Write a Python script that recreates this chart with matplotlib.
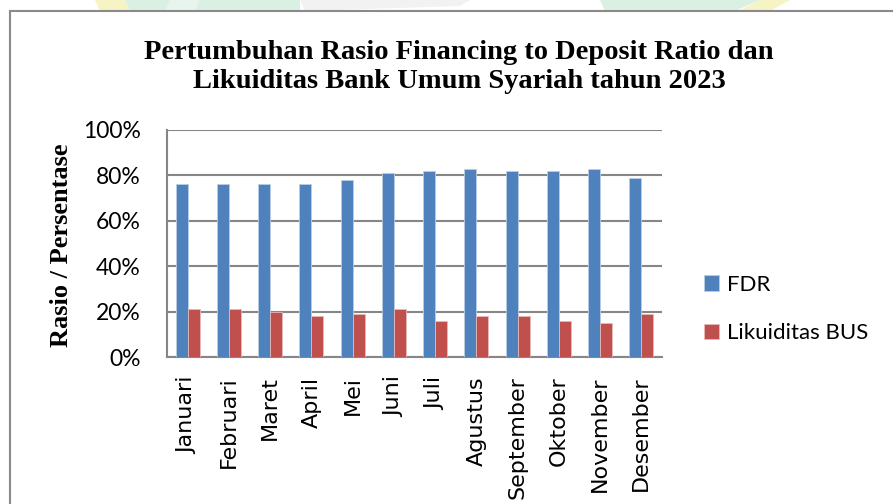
import matplotlib.pyplot as plt
from matplotlib.patches import Rectangle, Polygon
import numpy as np

months = ["Januari", "Februari", "Maret", "April", "Mei", "Juni", "Juli",
          "Agustus", "September", "Oktober", "November", "Desember"]
fdr = [76, 76, 76, 76, 78, 81, 82, 83, 82, 82, 83, 79]
likuiditas = [21, 21, 20, 18, 19, 21, 16, 18, 18, 16, 15, 19]
yticks = [0, 20, 40, 60, 80, 100]
ytick_labels = ["0%", "20%", "40%", "60%", "80%", "100%"]

W, H = 893, 504
fig = plt.figure(figsize=(W / 100, H / 100), dpi=100)
fig.patch.set_facecolor("white")

# faint background decoration above the chart frame
deco = fig.add_axes([0, 0, 1, 1], zorder=-5)
deco.set_xlim(0, W)
deco.set_ylim(H, 0)
deco.axis("off")
deco.add_patch(Polygon([[95, 0], [125, 0], [130, 11], [100, 11]], closed=True,
                       facecolor="#f6f3c4", edgecolor="none"))
deco.add_patch(Polygon([[125, 0], [300, 0], [300, 11], [130, 11]], closed=True,
                       facecolor="#d9f0e2", edgecolor="none"))
deco.add_patch(Polygon([[170, 0], [200, 0], [195, 11], [165, 11]], closed=True,
                       facecolor="#e8f5ee", edgecolor="none"))
deco.add_patch(Polygon([[600, 0], [760, 0], [735, 11], [605, 11]], closed=True,
                       facecolor="#d9f0e2", edgecolor="none"))
deco.add_patch(Polygon([[760, 0], [790, 0], [770, 11], [738, 11]], closed=True,
                       facecolor="#f6f3c4", edgecolor="none"))
deco.add_patch(Polygon([[300, 0], [470, 0], [460, 6], [305, 11]], closed=True,
                       facecolor="#f2f2f2", edgecolor="none"))
# chart frame
deco.add_patch(Rectangle((10, 11), W, H, facecolor="white",
                         edgecolor="#8a8a8a", linewidth=1.5))

ax = fig.add_axes([167 / W, 1 - 357 / H, 495 / W, 227 / H])
x = np.arange(len(months))
bw = 0.29
ax.bar(x - bw / 2, fdr, bw, color="#4F81BD", edgecolor="#b9cde5",
       linewidth=0.6, label="FDR", zorder=3)
ax.bar(x + bw / 2, likuiditas, bw, color="#C0504D", edgecolor="#e6b9b8",
       linewidth=0.6, label="Likuiditas BUS", zorder=3)

ax.set_xlim(-0.5, len(months) - 0.5)
ax.set_ylim(0, 100)
ax.set_yticks(yticks)
ax.set_yticklabels(ytick_labels, fontfamily="Lato", fontsize=16.5)
ax.set_xticks(x)
ax.set_xticklabels(months, rotation=90, fontfamily="DejaVu Sans", fontsize=16)
ax.tick_params(axis="x", length=0, pad=14)
ax.tick_params(axis="y", length=0, pad=19)
ax.yaxis.grid(True, color="#868686", linewidth=1.5, zorder=0)
for s in ["top", "right"]:
    ax.spines[s].set_visible(False)
for s in ["left", "bottom"]:
    ax.spines[s].set_color("#868686")
    ax.spines[s].set_linewidth(1.5)

ax.set_ylabel("Rasio / Persentase", fontfamily="Liberation Serif",
              fontweight="bold", fontsize=19, labelpad=8)
ax.yaxis.set_label_coords(73 / W, 1 - 245 / H, transform=fig.transFigure)

fig.text(459 / W, 1 - 67 / H,
         "Pertumbuhan Rasio Financing to Deposit Ratio dan\n"
         "Likuiditas Bank Umum Syariah tahun 2023",
         ha="center", va="center", fontfamily="Liberation Serif",
         fontweight="bold", fontsize=20.5, linespacing=1.18)

fig.legend(*ax.get_legend_handles_labels(), loc="center left",
           bbox_to_anchor=(697 / W, 1 - 309 / H),
           frameon=False, prop={"family": "Lato", "size": 16},
           handlelength=0.7, handleheight=0.7, handletextpad=0.35,
           labelspacing=1.3, borderaxespad=0, borderpad=0.3)

fig.savefig("out.png", dpi=100, facecolor="white")
